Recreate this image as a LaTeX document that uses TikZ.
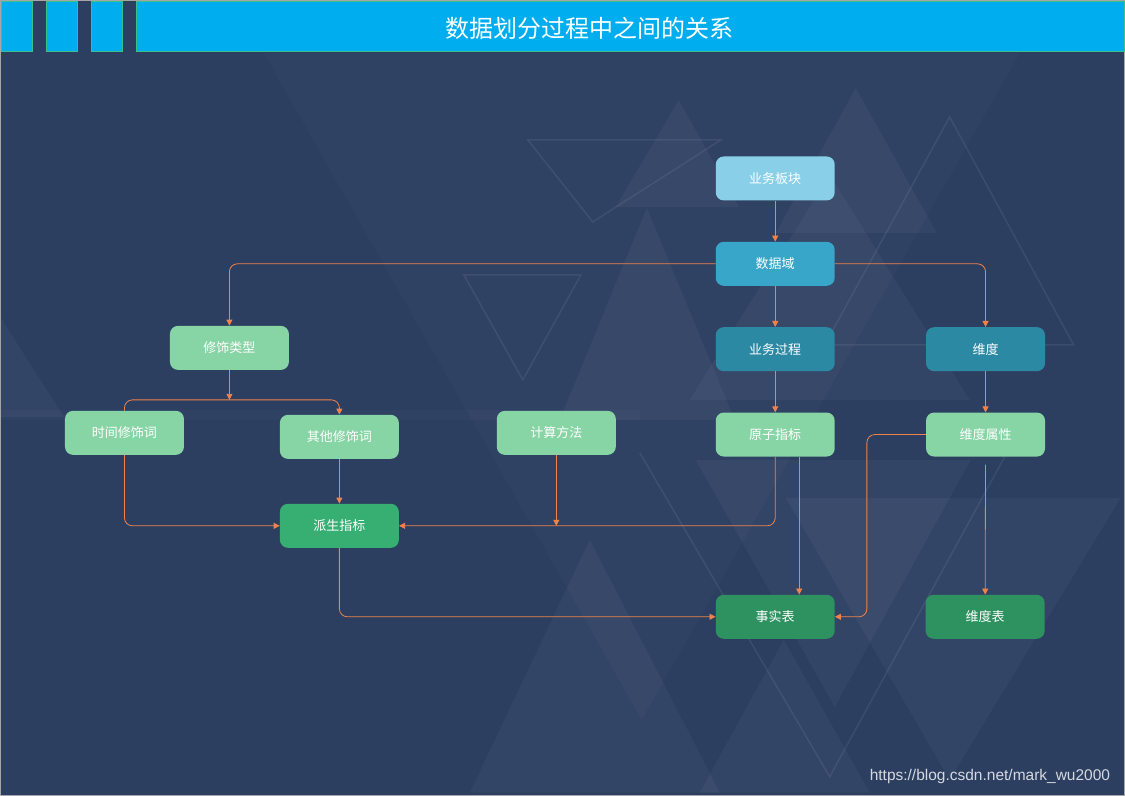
\documentclass[tikz,border=0pt]{standalone}
\usepackage{fontspec}
\setmainfont{Noto Sans CJK SC}
\setsansfont{Liberation Sans}
\usetikzlibrary{arrows.meta, positioning}

\definecolor{bgnavy}{HTML}{2C3F61}
\definecolor{headcyan}{HTML}{00AEEF}
\definecolor{headedge}{HTML}{3CC08A}
\definecolor{linkorange}{HTML}{F0824A}
\definecolor{skyA}{HTML}{89CFE8}
\definecolor{tealB}{HTML}{37A6C8}
\definecolor{tealC}{HTML}{2C89A3}
\definecolor{mintD}{HTML}{87D4A5}
\definecolor{greenE}{HTML}{37AF73}
\definecolor{greenF}{HTML}{2E9160}

\begin{document}
\begin{tikzpicture}[x=1pt, y=-1pt,
        box/.style={rectangle, rounded corners=8pt, minimum width=119pt, minimum height=44pt,
                    inner sep=0pt, text=white, font=\fontsize{13}{15}\selectfont},
        arr/.style={-{Triangle[length=6pt,width=6pt]}, draw=linkorange, line width=0.8pt,
                    rounded corners=8pt},
        tri/.style={fill=white, fill opacity=0.035},
        trio/.style={draw=white, draw opacity=0.07, line width=1.5pt},
        headblk/.style={fill=headcyan, draw=headedge, line width=0.8pt},
        node distance=41pt]
      % background and header
      \fill[bgnavy] (0,0) rectangle (1125,796);
      \fill[white, fill opacity=0.02] (264,53) -- (1020,53) -- (642,720) -- cycle;
      \fill[tri] (856,88) -- (776,233) -- (937,233) -- cycle;
      \fill[tri] (679,100) -- (616,207) -- (739,207) -- cycle;
      \fill[tri] (830,175) -- (690,400) -- (970,400) -- cycle;
      \fill[tri] (647,208) -- (560,420) -- (735,420) -- cycle;
      \fill[tri] (590,540) -- (470,793) -- (720,793) -- cycle;
      \fill[tri] (696,460) -- (971,460) -- (835,707) -- cycle;
      \fill[tri] (786,498) -- (1121,498) -- (950,780) -- cycle;
      \fill[tri] (784,640) -- (700,793) -- (870,793) -- cycle;
      \fill[tri] (0,317) -- (64,417) -- (0,417) -- cycle;
      \fill[white, fill opacity=0.02] (0,410) rectangle (640,420);
      \draw[trio] (528,140) -- (721,140) -- (593,222) -- cycle;
      \draw[trio] (464,275) -- (581,275) -- (523,380) -- cycle;
      \draw[trio] (950,117) -- (825,345) -- (1074,345) -- cycle;
      \draw[trio] (640,453) -- (830,777) -- (1005,457);
      \draw[gray!70, line width=1pt] (0.5,0.5) rectangle (1124.5,795.5);
      \fill[headblk] (1,1) rectangle (32,51);
      \fill[headblk] (46,1) rectangle (77,51);
      \fill[headblk] (91,1) rectangle (122,51);
      \fill[headblk] (136,1) rectangle (1125,51);
      \node[text=white, font=\fontsize{24}{28}\selectfont] (title) at (590,28) {数据划分过程中之间的关系};

      % nodes
      \node[box, fill=skyA] (bk) at (775.5,178.5) {业务板块};
      \node[box, fill=tealB, below=of bk] (sjy) {数据域};
      \node[box, fill=tealC, below=of sjy] (ywgc) {业务过程};
      \node[box, fill=mintD, below=of ywgc] (yzzb) {原子指标};
      \node[box, fill=tealC, right=91pt of ywgc] (wd) {维度};
      \node[box, fill=mintD, below=of wd] (wdsx) {维度属性};
      \node[box, fill=mintD] (xslx) at (229.5,348) {修饰类型};
      \node[box, fill=mintD] (sjxsc) at (124.5,433) {时间修饰词};
      \node[box, fill=mintD] (qtxsc) at (339.5,437) {其他修饰词};
      \node[box, fill=mintD] (jsff) at (556.5,433) {计算方法};
      \node[box, fill=greenE] (pszb) at (339.5,526) {派生指标};
      \node[box, fill=greenF] (ssb) at (775.5,617) {事实表};
      \node[box, fill=greenF] (wdb) at (985.5,617) {维度表};
      \node[anchor=east, text=white!80!bgnavy, font=\sffamily\fontsize{15.5}{18}\selectfont] (wm)
        at (1114,777) {https://blog.csdn.net/mark\_wu2000};

      % connectors
      \coordinate (fork) at (229.5,400);
      \coordinate (jsend) at (jsff.south |- pszb.east);
      \draw[arr] (bk) -- (sjy);
      \draw[arr] (sjy) -- (ywgc);
      \draw[arr] (sjy.west) -| (xslx.north);
      \draw[arr] (sjy.east) -| (wd.north);
      \draw[arr] (ywgc) -- (yzzb);
      \draw[arr] (wd) -- (wdsx);
      \draw[arr] (xslx) -- (fork);
      \draw[arr] (sjxsc.north) |- (fork) -| (qtxsc.north);
      \draw[arr] (sjxsc.south) |- (pszb.west);
      \draw[arr] (qtxsc) -- (pszb);
      \draw[arr] (yzzb.south) |- (pszb.east);
      \draw[arr] (jsff.south) -- (jsend);
      \draw[arr] ([xshift=24pt]yzzb.south) -- ([xshift=24pt]yzzb.south |- ssb.north);
      \draw[arr] (pszb.south) |- (ssb.west);
      \draw[arr] (wdsx.west) -| ([xshift=32pt]ssb.east) -- (ssb.east);
      \draw[arr, shorten <=8pt] (wdsx) -- (wdb);
    \end{tikzpicture}
\end{document}
